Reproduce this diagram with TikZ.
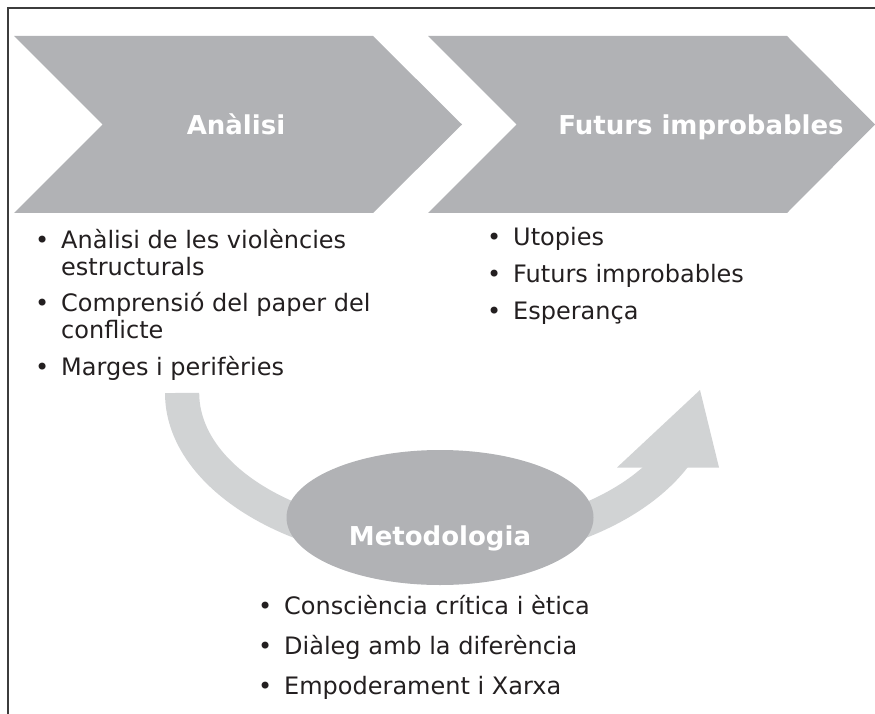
\documentclass[tikz,border=0pt]{standalone}
\usepackage{fontspec}
\setmainfont{DejaVu Sans}
\definecolor{chev}{HTML}{B1B2B5}
\definecolor{arcg}{HTML}{D1D3D4}
\definecolor{txt}{HTML}{231F20}
\definecolor{framec}{HTML}{3C3C3C}
\newcommand{\mybul}{\makebox[26pt][l]{•}}
\newcommand{\myind}{\hspace*{26pt}}
\begin{document}
\begin{tikzpicture}[x=1pt,y=-1pt,
  framel/.style={draw=framec,line width=1.5pt},
  chevron/.style={fill=chev},
  bandfill/.style={fill=arcg},
  title/.style={text=white,font=\fontsize{26}{30}\selectfont\bfseries,inner sep=0pt,anchor=base},
  listitem/.style={text=txt,font=\fontsize{24}{27}\selectfont,inner sep=0pt,anchor=base west,align=left}]
\useasboundingbox (0,0) rectangle (875,714);
% frame
\draw[framel] (8,714) -- (8,8) -- (875,8);
% chevrons
\fill[chevron] (14,36) -- (373,36) -- (462,124.5) -- (373,213) -- (14,213) -- (102.5,124.5) -- cycle;
\fill[chevron] (428,36) -- (787,36) -- (875,124.5) -- (787,213) -- (428,213) -- (516.5,124.5) -- cycle;
\node[title] (tan) at (236,134.5) {Anàlisi};
\node[title] (tfu) at (701,134.5) {Futurs improbables};
% curved arrow
\fill[bandfill] (165,393) arc[start angle=180, end angle=25.6, x radius=275, y radius=171]
  -- (643,467) arc[start angle=32.7, end angle=180, x radius=241, y radius=137] -- cycle;
\fill[bandfill] (617,467.5) -- (700,390) -- (719,467.5) -- cycle;
% ellipse
\fill[chevron] (440,517.5) ellipse[x radius=153.5, y radius=67.5];
\node[title] (tme) at (440,545) {Metodologia};
% left list (base anchor = last line)
\node[listitem] (a1) at (35,275) {\mybul Anàlisi de les violències\\\myind estructurals};
\node[listitem] (a2) at (35,338) {\mybul Comprensió del paper del\\\myind conflicte};
\node[listitem] (a3) at (35,375) {\mybul Marges i perifèries};
% right list
\node[listitem] (f1) at (487,245) {\mybul Utopies};
\node[listitem] (f2) at (487,282) {\mybul Futurs improbables};
\node[listitem] (f3) at (487,319) {\mybul Esperança};
% bottom list
\node[listitem] (m1) at (258,614) {\mybul Consciència crítica i ètica};
\node[listitem] (m2) at (258,654) {\mybul Diàleg amb la diferència};
\node[listitem] (m3) at (258,694) {\mybul Empoderament i Xarxa};
\end{tikzpicture}
\end{document}
